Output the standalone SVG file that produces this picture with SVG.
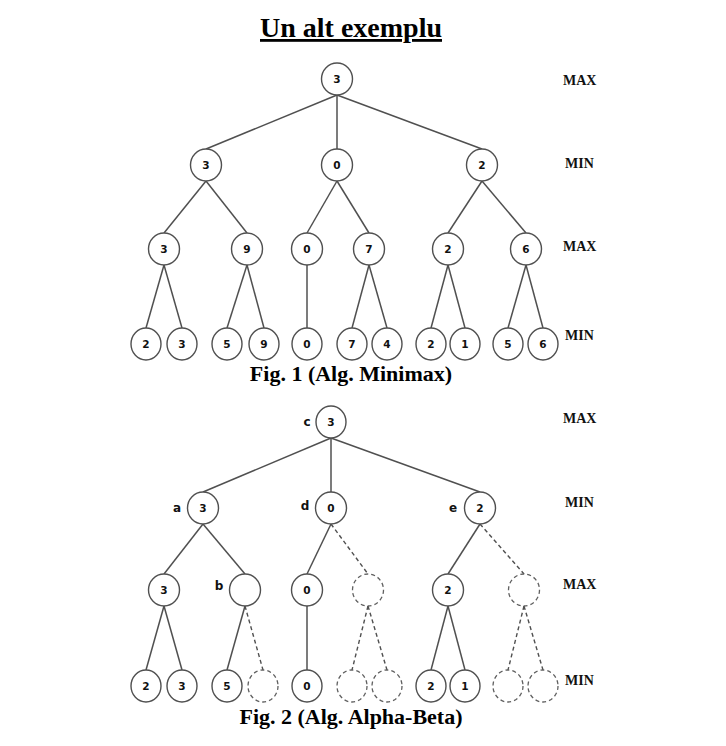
<svg xmlns="http://www.w3.org/2000/svg" width="726" height="746" viewBox="0 0 726 746">
<style>
.n{fill:#fff;stroke:#505050;stroke-width:1.4}
.p{fill:#fff;stroke:#606060;stroke-width:1.3;stroke-dasharray:4 3}
.e{stroke:#505050;stroke-width:1.5;fill:none}
.d{stroke:#505050;stroke-width:1.4;fill:none;stroke-dasharray:4 3}
.v{font-family:"DejaVu Sans",Verdana,sans-serif;font-weight:bold;font-size:10.5px;text-anchor:middle;fill:#111}
.l{font-family:"DejaVu Sans",Verdana,sans-serif;font-weight:bold;font-size:12px;text-anchor:middle;fill:#111}
.lv{font-family:"Liberation Serif","Times New Roman",serif;font-weight:bold;font-size:14px;fill:#111}
.cap{font-family:"Liberation Serif","Times New Roman",serif;font-weight:bold;font-size:22px;text-anchor:middle;fill:#000}
</style>
<rect width="726" height="746" fill="#fff"/>
<text x="351" y="37" font-family="'Liberation Serif','Times New Roman',serif" font-weight="bold" font-size="28" text-anchor="middle" text-decoration="underline">Un alt exemplu</text>

<g id="connectors1">
<line class="e" x1="337" y1="95" x2="206" y2="149"/>
<line class="e" x1="337" y1="95" x2="337" y2="149"/>
<line class="e" x1="337" y1="95" x2="482" y2="149"/>
<line class="e" x1="206" y1="181" x2="164" y2="233"/>
<line class="e" x1="206" y1="181" x2="247" y2="233"/>
<line class="e" x1="337" y1="181" x2="307" y2="233"/>
<line class="e" x1="337" y1="181" x2="369" y2="233"/>
<line class="e" x1="482" y1="181" x2="448" y2="233"/>
<line class="e" x1="482" y1="181" x2="526" y2="233"/>
<line class="e" x1="164" y1="265" x2="146" y2="328"/>
<line class="e" x1="164" y1="265" x2="182" y2="328"/>
<line class="e" x1="247" y1="265" x2="227" y2="328"/>
<line class="e" x1="247" y1="265" x2="264" y2="328"/>
<line class="e" x1="307" y1="265" x2="307" y2="328"/>
<line class="e" x1="369" y1="265" x2="352" y2="328"/>
<line class="e" x1="369" y1="265" x2="387" y2="328"/>
<line class="e" x1="448" y1="265" x2="431" y2="328"/>
<line class="e" x1="448" y1="265" x2="465" y2="328"/>
<line class="e" x1="526" y1="265" x2="508" y2="328"/>
<line class="e" x1="526" y1="265" x2="543" y2="328"/>
</g>

<g id="f1-root"><ellipse class="n" cx="337" cy="79" rx="15.5" ry="16"/><text class="v" x="337" y="83">3</text></g>
<g id="f1-n1"><ellipse class="n" cx="206" cy="165" rx="15.5" ry="16"/><text class="v" x="206" y="169">3</text></g>
<g id="f1-n2"><ellipse class="n" cx="337" cy="165" rx="15.5" ry="16"/><text class="v" x="337" y="169">0</text></g>
<g id="f1-n3"><ellipse class="n" cx="482" cy="165" rx="15.5" ry="16"/><text class="v" x="482" y="169">2</text></g>
<g id="f1-n11"><ellipse class="n" cx="164" cy="249" rx="15.5" ry="16"/><text class="v" x="164" y="253">3</text></g>
<g id="f1-n12"><ellipse class="n" cx="247" cy="249" rx="15.5" ry="16"/><text class="v" x="247" y="253">9</text></g>
<g id="f1-n21"><ellipse class="n" cx="307" cy="249" rx="15.5" ry="16"/><text class="v" x="307" y="253">0</text></g>
<g id="f1-n22"><ellipse class="n" cx="369" cy="249" rx="15.5" ry="16"/><text class="v" x="369" y="253">7</text></g>
<g id="f1-n31"><ellipse class="n" cx="448" cy="249" rx="15.5" ry="16"/><text class="v" x="448" y="253">2</text></g>
<g id="f1-n32"><ellipse class="n" cx="526" cy="249" rx="15.5" ry="16"/><text class="v" x="526" y="253">6</text></g>
<g id="f1-l1"><ellipse class="n" cx="146" cy="344" rx="15" ry="16"/><text class="v" x="146" y="348">2</text></g>
<g id="f1-l2"><ellipse class="n" cx="182" cy="344" rx="15" ry="16"/><text class="v" x="182" y="348">3</text></g>
<g id="f1-l3"><ellipse class="n" cx="227" cy="344" rx="15" ry="16"/><text class="v" x="227" y="348">5</text></g>
<g id="f1-l4"><ellipse class="n" cx="264" cy="344" rx="15" ry="16"/><text class="v" x="264" y="348">9</text></g>
<g id="f1-l5"><ellipse class="n" cx="307" cy="344" rx="15" ry="16"/><text class="v" x="307" y="348">0</text></g>
<g id="f1-l6"><ellipse class="n" cx="352" cy="344" rx="15" ry="16"/><text class="v" x="352" y="348">7</text></g>
<g id="f1-l7"><ellipse class="n" cx="387" cy="344" rx="15" ry="16"/><text class="v" x="387" y="348">4</text></g>
<g id="f1-l8"><ellipse class="n" cx="431" cy="344" rx="15" ry="16"/><text class="v" x="431" y="348">2</text></g>
<g id="f1-l9"><ellipse class="n" cx="465" cy="344" rx="15" ry="16"/><text class="v" x="465" y="348">1</text></g>
<g id="f1-l10"><ellipse class="n" cx="508" cy="344" rx="15" ry="16"/><text class="v" x="508" y="348">5</text></g>
<g id="f1-l11"><ellipse class="n" cx="543" cy="344" rx="15" ry="16"/><text class="v" x="543" y="348">6</text></g>

<g id="f1-levels">
<text class="lv" x="563" y="85">MAX</text>
<text class="lv" x="565" y="168">MIN</text>
<text class="lv" x="563" y="251">MAX</text>
<text class="lv" x="565" y="340">MIN</text>
</g>
<text class="cap" x="351" y="381">Fig. 1 (Alg. Minimax)</text>

<g id="connectors2">
<line class="e" x1="331" y1="438" x2="203" y2="492"/>
<line class="e" x1="331" y1="438" x2="331" y2="492"/>
<line class="e" x1="331" y1="438" x2="480" y2="492"/>
<line class="e" x1="203" y1="524" x2="164" y2="574"/>
<line class="e" x1="203" y1="524" x2="245" y2="574"/>
<line class="e" x1="331" y1="524" x2="307" y2="574"/>
<line class="d" x1="331" y1="524" x2="368" y2="574"/>
<line class="e" x1="480" y1="524" x2="448" y2="574"/>
<line class="d" x1="480" y1="524" x2="524" y2="574"/>
<line class="e" x1="164" y1="606" x2="146" y2="670"/>
<line class="e" x1="164" y1="606" x2="182" y2="670"/>
<line class="e" x1="245" y1="606" x2="227" y2="670"/>
<line class="d" x1="245" y1="606" x2="263" y2="670"/>
<line class="e" x1="307" y1="606" x2="307" y2="670"/>
<line class="d" x1="368" y1="606" x2="352" y2="670"/>
<line class="d" x1="368" y1="606" x2="387" y2="670"/>
<line class="e" x1="448" y1="606" x2="431" y2="670"/>
<line class="e" x1="448" y1="606" x2="465" y2="670"/>
<line class="d" x1="524" y1="606" x2="508" y2="670"/>
<line class="d" x1="524" y1="606" x2="543" y2="670"/>
</g>

<g id="f2-c"><ellipse class="n" cx="331" cy="422" rx="15" ry="16"/><text class="v" x="331" y="426">3</text><text class="l" x="307" y="426">c</text></g>
<g id="f2-a"><ellipse class="n" cx="203" cy="508" rx="15.5" ry="16"/><text class="v" x="203" y="512">3</text><text class="l" x="177" y="512">a</text></g>
<g id="f2-d"><ellipse class="n" cx="331" cy="508" rx="15.5" ry="16"/><text class="v" x="331" y="512">0</text><text class="l" x="305" y="510">d</text></g>
<g id="f2-e"><ellipse class="n" cx="480" cy="508" rx="15.5" ry="16"/><text class="v" x="480" y="512">2</text><text class="l" x="453" y="512">e</text></g>
<g id="f2-n11"><ellipse class="n" cx="164" cy="590" rx="15.5" ry="16"/><text class="v" x="164" y="594">3</text></g>
<g id="f2-b"><ellipse class="n" cx="245" cy="590" rx="15.5" ry="16"/><text class="l" x="219" y="590">b</text></g>
<g id="f2-n21"><ellipse class="n" cx="307" cy="590" rx="15.5" ry="16"/><text class="v" x="307" y="594">0</text></g>
<g id="f2-n22"><ellipse class="p" cx="368" cy="590" rx="15.5" ry="16"/></g>
<g id="f2-n31"><ellipse class="n" cx="448" cy="590" rx="15.5" ry="16"/><text class="v" x="448" y="594">2</text></g>
<g id="f2-n32"><ellipse class="p" cx="524" cy="590" rx="15.5" ry="16"/></g>
<g id="f2-l1"><ellipse class="n" cx="146" cy="686" rx="15" ry="16"/><text class="v" x="146" y="690">2</text></g>
<g id="f2-l2"><ellipse class="n" cx="182" cy="686" rx="15" ry="16"/><text class="v" x="182" y="690">3</text></g>
<g id="f2-l3"><ellipse class="n" cx="227" cy="686" rx="15" ry="16"/><text class="v" x="227" y="690">5</text></g>
<g id="f2-l4"><ellipse class="p" cx="263" cy="686" rx="15" ry="16"/></g>
<g id="f2-l5"><ellipse class="n" cx="307" cy="686" rx="15" ry="16"/><text class="v" x="307" y="690">0</text></g>
<g id="f2-l6"><ellipse class="p" cx="352" cy="686" rx="15" ry="16"/></g>
<g id="f2-l7"><ellipse class="p" cx="387" cy="686" rx="15" ry="16"/></g>
<g id="f2-l8"><ellipse class="n" cx="431" cy="686" rx="15" ry="16"/><text class="v" x="431" y="690">2</text></g>
<g id="f2-l9"><ellipse class="n" cx="465" cy="686" rx="15" ry="16"/><text class="v" x="465" y="690">1</text></g>
<g id="f2-l10"><ellipse class="p" cx="508" cy="686" rx="15" ry="16"/></g>
<g id="f2-l11"><ellipse class="p" cx="543" cy="686" rx="15" ry="16"/></g>

<g id="f2-levels">
<text class="lv" x="563" y="423">MAX</text>
<text class="lv" x="565" y="507">MIN</text>
<text class="lv" x="563" y="589">MAX</text>
<text class="lv" x="565" y="685">MIN</text>
</g>
<text class="cap" x="351" y="724">Fig. 2 (Alg. Alpha-Beta)</text>
</svg>
